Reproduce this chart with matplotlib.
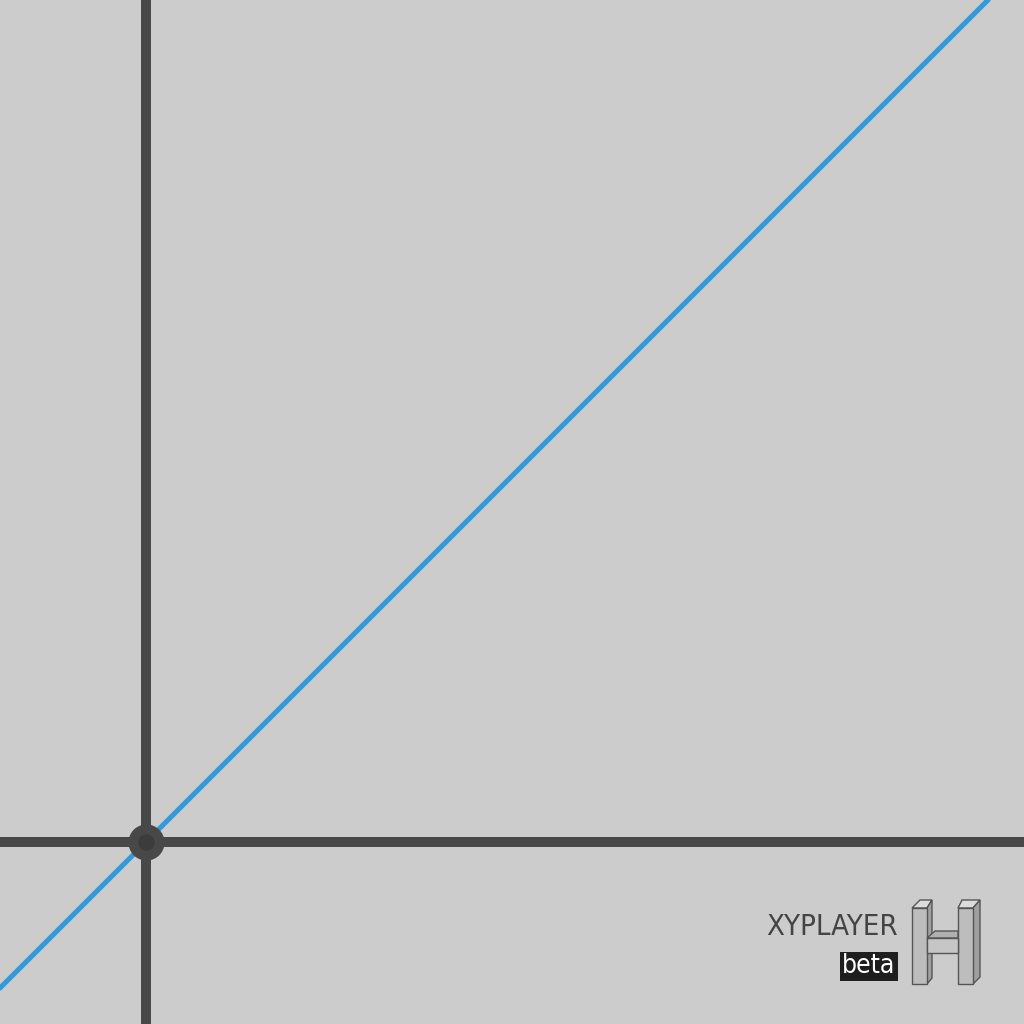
import numpy as np
import matplotlib
matplotlib.use("Agg")
import matplotlib.pyplot as plt
from matplotlib import font_manager
from matplotlib.patches import Polygon, Rectangle

# data: the line y = x through the origin, one unit = 100 px
line_x = [-2.0, 9.0]
line_y = [-2.0, 9.0]
origin = (0.0, 0.0)
xlim = (-1.46, 8.78)
ylim = (-1.82, 8.42)

logo_title = "XYPLAYER"
logo_tag = "beta"

BG = "#cccccc"
AXIS = "#484848"
BLUE = "#3399dd"

# pick a condensed face if one is installed
cond = [f for f in font_manager.fontManager.ttflist
        if f.stretch in ("condensed", "semi-condensed", "extra-condensed") or
        "Narrow" in f.name or "Condensed" in f.name]
if cond:
    font = dict(family=cond[0].name, stretch=cond[0].stretch)
    title_size, tag_size = 21, 19
else:
    font = dict(family="DejaVu Sans")
    title_size, tag_size = 19, 15

fig = plt.figure(figsize=(10.24, 10.24), dpi=100, facecolor=BG)
ax = fig.add_axes([0, 0, 1, 1])
ax.set_facecolor(BG)
ax.set_xlim(*xlim)
ax.set_ylim(*ylim)
ax.axis("off")

ax.axhline(origin[1], color=AXIS, lw=7.2, zorder=1)
ax.axvline(origin[0], color=AXIS, lw=7.2, zorder=1)
ax.plot(line_x, line_y, color=BLUE, lw=3.6, zorder=2, solid_capstyle="butt")
ax.plot(*origin, "o", ms=26, color=AXIS, mec="none", zorder=3)
ax.plot(*origin, "o", ms=12, color="#3c3c3c", mec="none", zorder=4)


def px(x, y):
    # image pixel (from top-left) -> figure fraction
    return (x / 1024, 1 - y / 1024)


# logo text
fig.text(*px(898, 927), logo_title, ha="right", va="center", fontsize=title_size,
         color="#444444", **font)
x0, y0 = px(840, 981)
fig.patches.append(Rectangle((x0, y0), 58 / 1024, 29 / 1024, transform=fig.transFigure,
                             facecolor="#1e1e1e", edgecolor="none"))
fig.text(*px(869, 966), logo_tag, ha="center", va="center", fontsize=tag_size,
         color="white", **font)

# 3D "H" mark
faces = [
    # left post: top, side, front
    ([(912, 908), (920, 900), (932, 900), (927, 908)], "#dcdcdc"),
    ([(927, 908), (932, 900), (932, 978), (927, 984)], "#a0a0a0"),
    ([(912, 908), (927, 908), (927, 984), (912, 984)], "#bdbdbd"),
    # right post
    ([(958, 908), (962, 900), (980, 900), (973, 908)], "#dcdcdc"),
    ([(973, 908), (980, 900), (980, 977), (973, 984)], "#a0a0a0"),
    ([(958, 908), (973, 908), (973, 984), (958, 984)], "#bdbdbd"),
    # crossbar top and front
    ([(927, 938), (935, 931), (958, 931), (958, 938)], "#b0b0b0"),
    ([(927, 938), (958, 938), (958, 953), (927, 953)], "#c6c6c6"),
]
for pts, fc in faces:
    fig.patches.append(Polygon([px(*p) for p in pts], closed=True, transform=fig.transFigure,
                               facecolor=fc, edgecolor="#555555", lw=1.0))

fig.savefig("out.png", dpi=100, facecolor=BG)
